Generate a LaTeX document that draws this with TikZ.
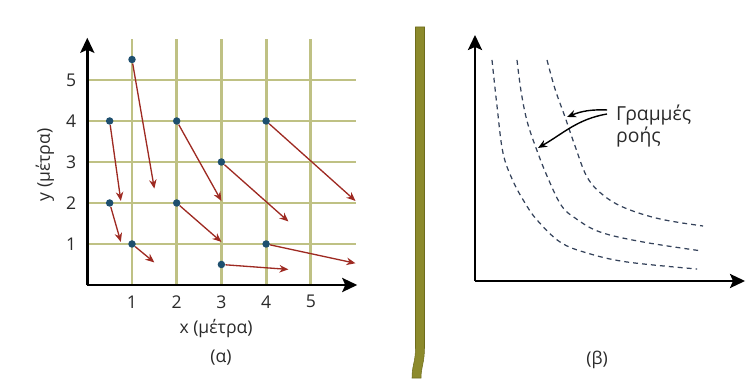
\documentclass[tikz,border=0pt]{standalone}
\usepackage{fontspec}
\setmainfont{Open Sans}
\usetikzlibrary{arrows.meta}
\definecolor{GridKhaki}{HTML}{BFC184}
\definecolor{DotBlue}{HTML}{1E4F6E}
\definecolor{FlowRed}{HTML}{9E2A22}
\definecolor{BarOlive}{HTML}{8C8A2C}
\definecolor{BarEdge}{HTML}{6E6C1C}
\definecolor{StreamInk}{HTML}{34425A}
\definecolor{LabelInk}{HTML}{2A2A2A}

\begin{document}
\begin{tikzpicture}[>=Stealth,font=\fontsize{10}{13}\selectfont,text=LabelInk,
    axis/.style={line width=1.5pt,-{Stealth[length=3mm,width=2.8mm,inset=0.6mm]}},
    gridline/.style={GridKhaki,line width=1.6pt},
    dot/.style={circle,fill=DotBlue,inner sep=0pt,minimum size=1.5mm},
    flow/.style={FlowRed,line width=0.75pt,-{Stealth[length=1.8mm,width=1.5mm]}},
    stream/.style={StreamInk,line width=0.7pt,dash pattern=on 2.8pt off 2.3pt},
    callout/.style={line width=0.8pt,-{Stealth[length=1.8mm,width=1.5mm]}}]
    \useasboundingbox (0,0) rectangle (14.94,7.7);
    % (a) grid with displacement arrows
    \begin{scope}[shift={(1.746,2.0)},x=0.894cm,y=0.82cm]
      \foreach \k in {1,...,5} {
        \draw[gridline] (0,\k) -- (6,\k);
        \draw[gridline] (\k,0) -- (\k,6);
        \node (xt\k) at (\k,-0.41) {\k};
        \node (yt\k) at (-0.36,\k) {\k};
      }
      \coordinate (oa) at (0,0);
      \coordinate (xa) at (6.04,0);
      \coordinate (ya) at (0,6.03);
      \draw[axis] (oa) -- (xa);
      \draw[axis] (oa) -- (ya);
      \foreach \i/\px/\py/\qx/\qy in {a/1/5.5/1.5/2.35,b/0.5/4/0.75/2.05,c/0.5/2/0.75/1.05,
          d/1/1/1.5/0.55,e/2/4/3/2.05,f/2/2/3/1.05,g/3/3/4.5/1.55,h/4/4/6/2.05,
          i/3/0.5/4.5/0.38,j/4/1/6/0.53} {
        \node[dot] (p\i) at (\px,\py) {};
        \coordinate (q\i) at (\qx,\qy);
        \draw[flow] (p\i) -- (q\i);
      }
      \node (xlab) at (2.88,-1.05) {x (μέτρα)};
      \node[rotate=90] (ylab) at (-0.95,2.93) {y (μέτρα)};
      \node (capa) at (2.99,-1.76) {(α)};
    \end{scope}
    % separator
    \draw[BarEdge,fill=BarOlive,line width=0.3pt] (8.31,7.16) -- (8.49,7.16) -- (8.49,0.75)
      .. controls (8.49,0.45) and (8.42,0.35) .. (8.42,0.14) -- (8.24,0.14)
      .. controls (8.24,0.4) and (8.31,0.45) .. (8.31,0.75) -- cycle;
    % (b) streamlines
    \begin{scope}[shift={(9.5,2.08)},x=0.02cm,y=0.02cm]
      \coordinate (ob) at (0,0);
      \coordinate (xb) at (270,0);
      \coordinate (yb) at (0,246);
      \draw[axis] (ob) -- (xb);
      \draw[axis] (ob) -- (yb);
      \draw[stream] plot[smooth,tension=0.6] coordinates {(17,221) (22,175) (28,128) (38,100)
        (50,78) (62,61) (85,39) (112,28) (152,19) (222,12)};
      \draw[stream] plot[smooth,tension=0.6] coordinates {(42,221) (46,190) (52,160) (61,133)
        (72,105) (86,76) (100,63) (125,49) (168,39) (227,30)};
      \draw[stream] plot[smooth,tension=0.6] coordinates {(72,221) (80,192) (90,164) (100,135)
        (112,104) (128,86) (150,73) (185,62) (228,55)};
      \node[anchor=west,align=left,inner xsep=5pt,inner ysep=0pt,font=\fontsize{11}{13}\selectfont]
        (lbl) at (132,155) {Γραμμές\\ροής};
      \coordinate (tc) at (92,164);
      \coordinate (tb) at (63,133);
      \draw[callout] ([yshift=0.32cm]lbl.west) to[bend right=12] (tc);
      \draw[callout] ([yshift=0.24cm]lbl.west) to[out=190,in=30] (tb);
      \node (capb) at (122,-79) {(β)};
    \end{scope}
\end{tikzpicture}
\end{document}
